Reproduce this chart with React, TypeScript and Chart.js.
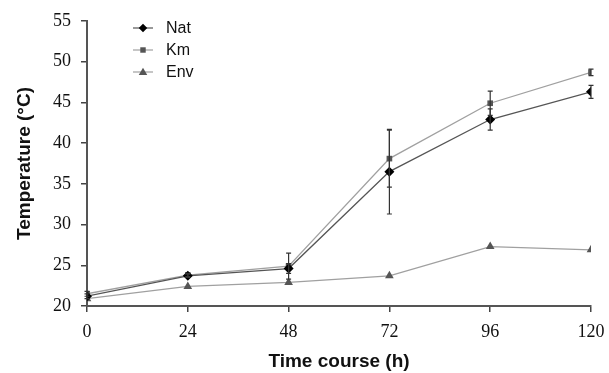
import React, { useEffect, useRef } from "react";
import { Chart, registerables } from "chart.js";

Chart.register(...registerables);

const hours = [0, 24, 48, 72, 96, 120];
const natValues = [21.2, 23.7, 24.6, 36.5, 42.9, 46.3];
const natErrors = [0.3, 0.2, 0.6, 5.2, 1.3, 0.8];
const kmValues = [21.5, 23.8, 24.9, 38.1, 44.9, 48.7];
const kmErrors = [0.3, 0.2, 1.6, 3.5, 1.5, 0.4];
const envValues = [20.9, 22.4, 22.9, 23.7, 27.3, 26.9];
const envErrors = [0, 0, 0, 0, 0, 0];
const seriesNames = ["Nat", "Km", "Env"];
const yTicks = [20, 25, 30, 35, 40, 45, 50, 55];
const xTicks = [0, 24, 48, 72, 96, 120];

const errorPlugin = {
  id: "errbars",
  afterDatasetsDraw(chart: any) {
    const ctx = chart.ctx;
    const xs = chart.scales.x;
    const ys = chart.scales.y;
    const errs = [natErrors, kmErrors, envErrors];
    const vals = [natValues, kmValues, envValues];
    ctx.save();
    ctx.strokeStyle = "#333";
    ctx.lineWidth = 1.2;
    for (let s = 0; s < 3; s++) {
      for (let i = 0; i < hours.length; i++) {
        const e = errs[s][i];
        if (!e) continue;
        const x = xs.getPixelForValue(hours[i]);
        const y1 = ys.getPixelForValue(vals[s][i] + e);
        const y2 = ys.getPixelForValue(vals[s][i] - e);
        ctx.beginPath();
        ctx.moveTo(x, y1);
        ctx.lineTo(x, y2);
        ctx.moveTo(x - 2.5, y1);
        ctx.lineTo(x + 2.5, y1);
        ctx.moveTo(x - 2.5, y2);
        ctx.lineTo(x + 2.5, y2);
        ctx.stroke();
      }
    }
    ctx.restore();
  },
};

function drawMarker(ctx: CanvasRenderingContext2D, style: string, x: number, y: number, r: number) {
  ctx.beginPath();
  if (style === "rectRot") {
    ctx.moveTo(x, y - r);
    ctx.lineTo(x + r, y);
    ctx.lineTo(x, y + r);
    ctx.lineTo(x - r, y);
  } else if (style === "rect") {
    const h = r * 0.8;
    ctx.rect(x - h, y - h, 2 * h, 2 * h);
  } else {
    ctx.moveTo(x, y - r);
    ctx.lineTo(x + r, y + r * 0.7);
    ctx.lineTo(x - r, y + r * 0.7);
  }
  ctx.closePath();
  ctx.fill();
}

const legendPlugin = {
  id: "insideLegend",
  afterDraw(chart: any) {
    const ctx = chart.ctx;
    const items = chart.data.datasets;
    ctx.save();
    items.forEach((ds: any, i: number) => {
      const y = 28 + i * 22;
      const x0 = 133;
      ctx.strokeStyle = ds.borderColor;
      ctx.lineWidth = 1.2;
      ctx.beginPath();
      ctx.moveTo(x0, y);
      ctx.lineTo(x0 + 20, y);
      ctx.stroke();
      ctx.fillStyle = ds.pointBackgroundColor;
      drawMarker(ctx, ds.pointStyle, x0 + 10, y, ds.pointRadius * 0.85);
      ctx.fillStyle = "#111";
      ctx.font = "16px 'Liberation Sans', Arial, sans-serif";
      ctx.textBaseline = "middle";
      ctx.textAlign = "left";
      ctx.fillText(ds.label, 166, y + 1);
    });
    ctx.restore();
  },
};

export default function App() {
  const ref = useRef<HTMLCanvasElement>(null);
  useEffect(() => {
    const mk = (arr: number[]) => hours.map((h, i) => ({ x: h, y: arr[i] }));
    const chart = new Chart(ref.current!, {
      type: "line",
      data: {
        datasets: [
          {
            label: seriesNames[0],
            data: mk(natValues),
            borderColor: "#555",
            borderWidth: 1.3,
            pointStyle: "rectRot",
            pointRadius: 5,
            pointBackgroundColor: "#000",
            pointBorderColor: "#000",
            pointBorderWidth: 0,
          },
          {
            label: seriesNames[1],
            data: mk(kmValues),
            borderColor: "#a0a0a0",
            borderWidth: 1.3,
            pointStyle: "rect",
            pointRadius: 4,
            pointBackgroundColor: "#555",
            pointBorderColor: "#555",
            pointBorderWidth: 0,
          },
          {
            label: seriesNames[2],
            data: mk(envValues),
            borderColor: "#a0a0a0",
            borderWidth: 1.3,
            pointStyle: "triangle",
            pointRadius: 5,
            pointBackgroundColor: "#555",
            pointBorderColor: "#555",
            pointBorderWidth: 0,
          },
        ] as any,
      },
      options: {
        animation: false,
        responsive: false,
        maintainAspectRatio: false,
        layout: { padding: { left: 0, right: 18, top: 21, bottom: 0 } },
        plugins: { legend: { display: false }, tooltip: { enabled: false } },
        scales: {
          x: {
            type: "linear",
            min: 0,
            max: 120,
            afterBuildTicks: (s: any) => {
              s.ticks = xTicks.map((v) => ({ value: v }));
            },
            afterFit: (s: any) => {
              s.height = 67;
              s.paddingLeft = 0;
              s.paddingRight = 0;
            },
            grid: { drawOnChartArea: false, tickLength: 6, color: "#444", lineWidth: 1.5 },
            border: { color: "#555", width: 2 },
            ticks: {
              color: "#111",
              padding: 9,
              maxRotation: 0,
              font: { family: "'Liberation Serif', 'Times New Roman', serif", size: 18 },
            },
            title: {
              display: true,
              text: "Time course (h)",
              color: "#111",
              padding: { top: 0, bottom: 0 },
              font: { family: "'Liberation Sans', Arial, sans-serif", size: 19, weight: "bold" },
            },
          },
          y: {
            type: "linear",
            min: 20,
            max: 55,
            afterBuildTicks: (s: any) => {
              s.ticks = yTicks.map((v) => ({ value: v }));
            },
            afterFit: (s: any) => {
              s.width = 87;
              s.paddingTop = 0;
              s.paddingBottom = 0;
            },
            grid: { drawOnChartArea: false, tickLength: 6, color: "#444", lineWidth: 1.5 },
            border: { color: "#555", width: 2 },
            ticks: {
              color: "#111",
              padding: 10,
              font: { family: "'Liberation Serif', 'Times New Roman', serif", size: 18 },
            },
            title: {
              display: true,
              text: "Temperature (°C)",
              color: "#111",
              padding: { top: 13, bottom: 0 },
              font: { family: "'Liberation Sans', Arial, sans-serif", size: 19, weight: "bold" },
            },
          },
        },
      } as any,
      plugins: [errorPlugin, legendPlugin],
    });
    return () => chart.destroy();
  }, []);
  return (
    <div style={{ position: "fixed", left: 0, top: 0, width: 609, height: 373, background: "#fff" }}>
      <canvas ref={ref} width={609} height={373} />
    </div>
  );
}
